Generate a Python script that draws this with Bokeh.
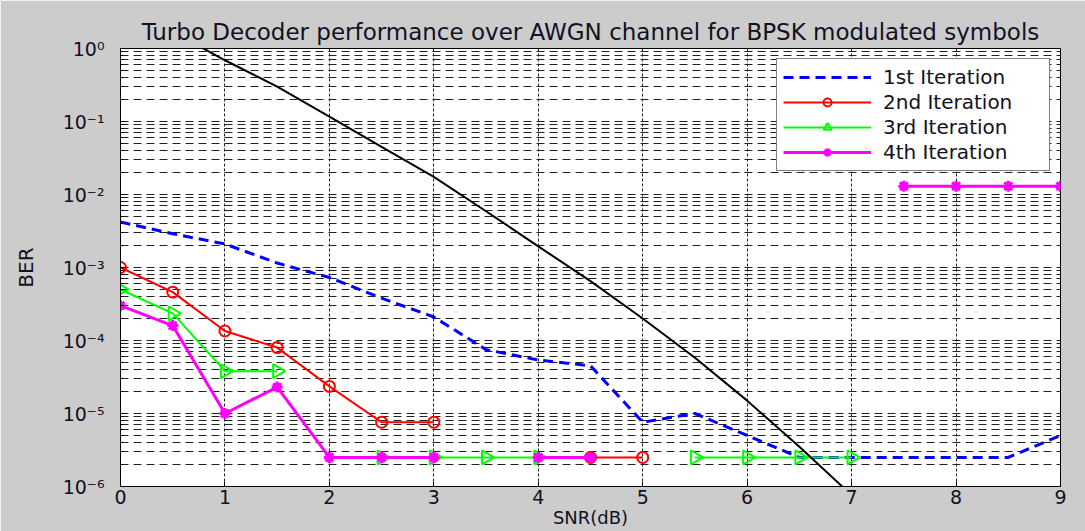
import numpy as np
from bokeh.plotting import figure
from bokeh.models import FixedTicker, CustomJSTickFormatter, Range1d
from bokeh.embed import file_html
from bokeh.resources import INLINE

nan = float("nan")

# ---- data ----
snr_db = [0, 0.5, 1, 1.5, 2, 2.5, 3, 3.5, 4, 4.5, 5, 5.5, 6, 6.5, 7, 7.5, 8, 8.5, 9]
ber_iter1 = [4.2e-3, 2.9e-3, 2.1e-3, 1.15e-3, 7.3e-4, 3.8e-4, 2.1e-4, 7.5e-5, 5.4e-5, 4.5e-5,
             7.6e-6, 1.0e-5, 5.0e-6, 2.5e-6, 2.5e-6, 2.5e-6, 2.5e-6, 2.5e-6, 5.0e-6]
ber_iter2 = [1.0e-3, 4.6e-4, 1.35e-4, 8.0e-5, 2.35e-5, 7.6e-6, 7.6e-6, nan, nan, 2.5e-6,
             2.5e-6, nan, nan, nan, nan, nan, nan, nan, nan]
ber_iter3 = [5.0e-4, 2.35e-4, 3.8e-5, 3.8e-5, nan, 2.5e-6, 2.5e-6, 2.5e-6, 2.5e-6, nan,
             nan, 2.5e-6, 2.5e-6, 2.5e-6, 2.5e-6, nan, nan, nan, nan]
ber_iter4 = [3.0e-4, 1.6e-4, 1.0e-5, 2.3e-5, 2.5e-6, 2.5e-6, 2.5e-6, nan, 2.5e-6, 2.5e-6,
             nan, nan, nan, nan, nan, 1.3e-2, 1.3e-2, 1.3e-2, 1.3e-2]
snr_ref = [0.5, 1, 1.5, 2, 2.5, 3, 3.5, 4, 4.5, 5, 5.5, 6, 6.5, 7]
ber_ref = [1.7, 0.69, 0.30, 0.117, 0.045, 0.0174, 5.9e-3, 1.95e-3, 6.5e-4, 2.0e-4,
           5.8e-5, 1.5e-5, 3.5e-6, 7.6e-7]

x_ticks = [0, 1, 2, 3, 4, 5, 6, 7, 8, 9]
y_exponents = [-6, -5, -4, -3, -2, -1, 0]

title_text = "Turbo Decoder performance over AWGN channel for BPSK modulated symbols"
labels = ["1st Iteration", "2nd Iteration", "3rd Iteration", "4th Iteration"]

FONT = "DejaVu Sans"

y_major = [10.0 ** e for e in y_exponents]
y_minor = [k * 10.0 ** e for e in y_exponents[:-1] for k in range(2, 10)]

p = figure(width=1085, height=531, y_axis_type="log",
           x_range=Range1d(0, 9), y_range=Range1d(1e-6, 1),
           output_backend="svg", toolbar_location=None,
           title=title_text,
           min_border_left=120, min_border_right=25,
           min_border_top=48, min_border_bottom=45)

p.background_fill_color = "white"
p.border_fill_color = "#cccccc"
p.outline_line_color = "black"
p.outline_line_width = 1
p.outline_line_alpha = 1

p.title.text_font = FONT
p.title.text_font_size = "23px"
p.title.text_font_style = "normal"
p.title.text_color = "#111122"
p.title.align = "center"
p.title.standoff = 8

xt = FixedTicker(ticks=x_ticks)
yt = FixedTicker(ticks=y_major, minor_ticks=y_minor)
p.xaxis.ticker = xt
p.yaxis.ticker = yt
p.xgrid.ticker = xt
p.ygrid.ticker = yt

p.yaxis.formatter = CustomJSTickFormatter(code="""
const e = Math.round(Math.log10(tick));
const sup = {'-':'\u207b','0':'\u2070','1':'\u00b9','2':'\u00b2','3':'\u00b3','4':'\u2074','5':'\u2075','6':'\u2076','7':'\u2077','8':'\u2078','9':'\u2079'};
return '10' + String(e).split('').map(c => sup[c]).join('');
""")

for ax in (p.xaxis[0], p.yaxis[0]):
    ax.axis_line_color = "black"
    ax.major_tick_in = 5
    ax.major_tick_out = 0
    ax.minor_tick_in = 3
    ax.minor_tick_out = 0
    ax.major_tick_line_color = "black"
    ax.minor_tick_line_color = "black"
    ax.major_label_text_font = FONT
    ax.major_label_text_font_size = "19px"
    ax.major_label_text_color = "#111122"
    ax.axis_label_text_font = FONT
    ax.axis_label_text_font_style = "normal"
    ax.axis_label_text_color = "#111122"

p.xaxis.axis_label = "SNR(dB)"
p.yaxis.axis_label = "BER"
p.xaxis.major_label_standoff = 3
p.xaxis.axis_label_standoff = 0
p.xaxis.axis_label_text_font_size = "18px"
p.yaxis.major_label_standoff = 16
p.yaxis.axis_label_standoff = 22
p.yaxis.axis_label_text_font_size = "20px"

p.xgrid.grid_line_color = "#222222"
p.xgrid.grid_line_dash = "3 2"
p.xgrid.grid_line_width = 1
p.ygrid.grid_line_color = "#222222"
p.ygrid.grid_line_dash = "8 5"
p.ygrid.grid_line_width = 1
p.ygrid.minor_grid_line_color = "#222222"
p.ygrid.minor_grid_line_dash = "8 5"
p.ygrid.minor_grid_line_width = 1

x = np.array(snr_db, dtype=float)

# 1st iteration: blue dashed
p.line(x, np.array(ber_iter1), line_color="#0000ff", line_width=3, line_dash="10 6",
       legend_label=labels[0])
# 2nd iteration: red with open circles
p.line(x, np.array(ber_iter2), line_color="#ff0000", line_width=2, legend_label=labels[1])
p.scatter(x, np.array(ber_iter2), marker="circle", size=11, line_color="#ff0000",
          line_width=2, fill_alpha=0, legend_label=labels[1])
# 3rd iteration: green with right-pointing triangles
p.line(x, np.array(ber_iter3), line_color="#00ff00", line_width=2, legend_label=labels[2])
p.scatter(x, np.array(ber_iter3), marker="triangle", angle=-np.pi / 2, size=14,
          line_color="#00ff00", line_width=2, fill_alpha=0, legend_label=labels[2])
# 4th iteration: magenta with asterisks
p.line(x, np.array(ber_iter4), line_color="#ff00ff", line_width=3, legend_label=labels[3])
p.scatter(x, np.array(ber_iter4), marker="asterisk", size=11, line_color="#ff00ff",
          line_width=3, legend_label=labels[3])
# reference curve: black
p.line(np.array(snr_ref, dtype=float), np.array(ber_ref), line_color="black", line_width=2)

lg = p.legend[0]
lg.location = "top_right"
lg.margin = 10
lg.padding = 6
lg.spacing = 1
lg.glyph_width = 88
lg.glyph_height = 20
lg.label_height = 20
lg.label_width = 160
lg.label_standoff = 12
lg.label_text_font = FONT
lg.label_text_font_size = "20px"
lg.label_text_color = "#111122"
lg.border_line_color = "black"
lg.border_line_width = 1
lg.background_fill_color = "white"
lg.background_fill_alpha = 1

open("out.html", "w").write(file_html(p, INLINE))
